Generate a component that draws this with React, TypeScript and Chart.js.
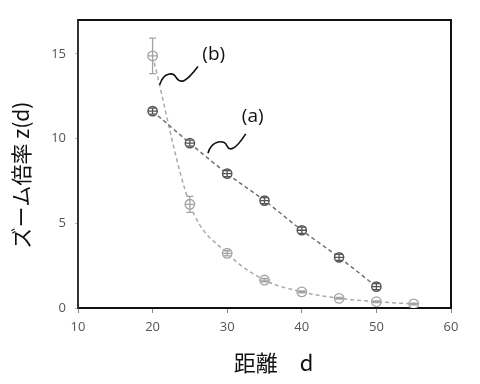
import React, { useEffect, useRef } from "react";
import { Chart, registerables } from "chart.js";

Chart.register(...registerables);

const distA = [20, 25, 30, 35, 40, 45, 50];
const zoomA = [11.62, 9.73, 7.93, 6.34, 4.59, 2.99, 1.26];
const errA = [0.18, 0.18, 0.18, 0.18, 0.18, 0.18, 0.18];

const distB = [20, 25, 30, 35, 40, 45, 50, 55];
const zoomB = [14.88, 6.12, 3.23, 1.65, 0.95, 0.57, 0.37, 0.24];
const errB = [1.05, 0.47, 0.15, 0.1, 0.06, 0.05, 0.05, 0.05];

const xTicks = [10, 20, 30, 40, 50, 60];
const yTicks = [0, 5, 10, 15];

const labelNames = ["(a)", "(b)"];
const labelX = [33.42, 28.19];
const labelY = [11.28, 14.94];
// squiggle anchor points (data coords): start, peak, valley, end
const squiggleAX = [27.42, 29.43, 30.43, 32.48];
const squiggleAY = [9.14, 9.76, 9.43, 10.28];
const squiggleBX = [20.94, 22.51, 23.85, 26.08];
const squiggleBY = [13.17, 13.76, 13.43, 14.25];

const xTitle = "距離　d";
const yTitle = "ズーム倍率 z(d)";

const colA = "#555555";
const colB = "#a3a3a3";

const errorBars = {
  id: "errorBars",
  afterDatasetsDraw(chart: any) {
    const ctx = chart.ctx;
    const xs = chart.scales.x;
    const ys = chart.scales.y;
    const sets = [
      { d: distA, v: zoomA, e: errA, c: colA },
      { d: distB, v: zoomB, e: errB, c: colB },
    ];
    ctx.save();
    sets.forEach((s) => {
      ctx.strokeStyle = s.c;
      ctx.lineWidth = 1.3;
      s.d.forEach((dv, i) => {
        const px = xs.getPixelForValue(dv);
        const top = ys.getPixelForValue(s.v[i] + s.e[i]);
        const bot = ys.getPixelForValue(s.v[i] - s.e[i]);
        const mid = ys.getPixelForValue(s.v[i]);
        ctx.beginPath();
        ctx.moveTo(px, top);
        ctx.lineTo(px, bot);
        ctx.moveTo(px - 3.5, top);
        ctx.lineTo(px + 3.5, top);
        ctx.moveTo(px - 3.5, bot);
        ctx.lineTo(px + 3.5, bot);
        ctx.moveTo(px - 4.5, mid);
        ctx.lineTo(px + 4.5, mid);
        ctx.stroke();
      });
    });
    ctx.restore();
  },
};

const decorations = {
  id: "decorations",
  afterDraw(chart: any) {
    const ctx = chart.ctx;
    const xs = chart.scales.x;
    const ys = chart.scales.y;
    const a = chart.chartArea;
    ctx.save();
    // frame top/right
    ctx.strokeStyle = "#111";
    ctx.lineWidth = 2;
    ctx.beginPath();
    ctx.moveTo(a.left, a.top);
    ctx.lineTo(a.right, a.top);
    ctx.lineTo(a.right, a.bottom);
    ctx.stroke();

    // squiggles
    const drawSq = (sx: number[], sy: number[]) => {
      const p = sx.map((v, i) => [xs.getPixelForValue(v), ys.getPixelForValue(sy[i])]);
      ctx.strokeStyle = "#111";
      ctx.lineWidth = 1.6;
      ctx.beginPath();
      ctx.moveTo(p[0][0], p[0][1]);
      ctx.bezierCurveTo(p[0][0] + 4, p[1][1] - 3, p[1][0] + 2, p[1][1] - 3, (p[1][0] + p[2][0]) / 2, (p[1][1] + p[2][1]) / 2);
      ctx.bezierCurveTo(p[2][0] - 1, p[2][1] + 3, p[2][0] + 4, p[2][1] + 3, p[3][0], p[3][1]);
      ctx.stroke();
    };
    drawSq(squiggleAX, squiggleAY);
    drawSq(squiggleBX, squiggleBY);

    // labels
    ctx.fillStyle = "#111";
    ctx.font = "19px 'Open Sans', 'Noto Sans', sans-serif";
    ctx.textAlign = "center";
    ctx.textBaseline = "middle";
    labelNames.forEach((t, i) => {
      ctx.fillText(t, xs.getPixelForValue(labelX[i]), ys.getPixelForValue(labelY[i]));
    });

    // axis titles
    ctx.font = "22px 'Noto Sans CJK JP', sans-serif";
    ctx.fillText(xTitle, (a.left + a.right) / 2 + 9, a.bottom + 55);
    ctx.translate(21, (a.top + a.bottom) / 2 + 11);
    ctx.rotate(-Math.PI / 2);
    ctx.font = "21px 'Noto Sans CJK JP', sans-serif";
    ctx.fillText(yTitle, 0, 0);
    ctx.restore();
  },
};

export default function App() {
  const ref = useRef<HTMLCanvasElement>(null);
  useEffect(() => {
    if (!ref.current) return;
    const chart = new Chart(ref.current, {
      type: "scatter",
      data: {
        datasets: [
          {
            label: "(a)",
            data: distA.map((d, i) => ({ x: d, y: zoomA[i] })),
            showLine: true,
            borderColor: "#707070",
            borderWidth: 1.5,
            borderDash: [4, 3],
            cubicInterpolationMode: "monotone",
            pointRadius: 4.6,
            pointBorderWidth: 1.5,
            pointBorderColor: colA,
            pointBackgroundColor: "#ffffff",
          },
          {
            label: "(b)",
            data: distB.map((d, i) => ({ x: d, y: zoomB[i] })),
            showLine: true,
            borderColor: "#aaaaaa",
            borderWidth: 1.5,
            borderDash: [4, 3],
            cubicInterpolationMode: "monotone",
            pointRadius: 4.8,
            pointBorderWidth: 1.3,
            pointBorderColor: colB,
            pointBackgroundColor: "#ffffff",
          },
        ],
      },
      options: {
        responsive: false,
        animation: false,
        layout: { padding: { top: 20, right: 29, left: 0, bottom: 0 } },
        plugins: { legend: { display: false }, tooltip: { enabled: false } },
        scales: {
          x: {
            type: "linear",
            min: 10,
            max: 60,
            afterBuildTicks: (s: any) => {
              s.ticks = xTicks.map((v) => ({ value: v }));
            },
            afterFit: (s: any) => {
              s.height = 76;
            },
            ticks: {
              color: "#555",
              font: { family: "'Open Sans', 'Noto Sans', sans-serif", size: 13 },
              padding: 6,
            },
            grid: { drawOnChartArea: false, tickLength: 5, color: "#888", lineWidth: 1 },
            border: { color: "#111", width: 2 },
          },
          y: {
            type: "linear",
            min: 0,
            max: 17,
            afterBuildTicks: (s: any) => {
              s.ticks = yTicks.map((v) => ({ value: v }));
            },
            afterFit: (s: any) => {
              s.width = 78;
            },
            ticks: {
              color: "#555",
              font: { family: "'Open Sans', 'Noto Sans', sans-serif", size: 13 },
              padding: 9,
            },
            grid: { drawOnChartArea: false, tickLength: 3, color: "#bbb" },
            border: { color: "#333", width: 2 },
          },
        },
      },
      plugins: [errorBars, decorations],
    } as any);
    return () => chart.destroy();
  }, []);
  return (
    <div style={{ position: "fixed", left: 0, top: 0, width: 480, height: 384, background: "#fff" }}>
      <canvas ref={ref} width={480} height={384} />
    </div>
  );
}
